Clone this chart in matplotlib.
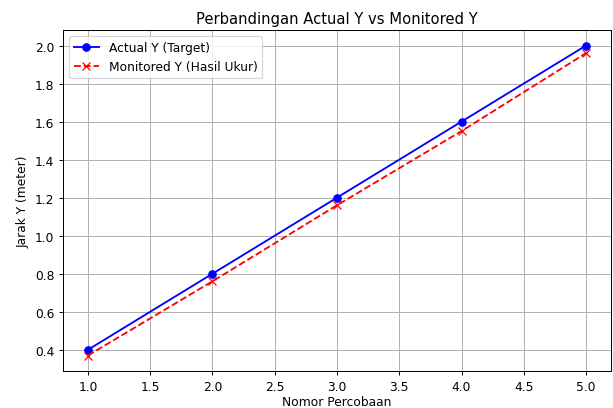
import matplotlib
matplotlib.use("Agg")
import matplotlib.pyplot as plt

trial = [1, 2, 3, 4, 5]
actual_y = [0.4, 0.8, 1.2, 1.6, 2.0]
monitored_y = [0.37, 0.76, 1.16, 1.55, 1.96]

dpi = 88.6
W, H = 613, 409
fig = plt.figure(figsize=(W / dpi, H / dpi), dpi=dpi)
ax = fig.add_axes([63/W, 1 - 372/H, (611-63)/W, (372-31)/H])
ax.plot(trial, actual_y, 'b-o', label='Actual Y (Target)')
ax.plot(trial, monitored_y, 'r--x', label='Monitored Y (Hasil Ukur)')
ax.set_title('Perbandingan Actual Y vs Monitored Y')
ax.set_xlabel('Nomor Percobaan', labelpad=2)
ax.set_ylabel('Jarak Y (meter)')
ax.grid(True)
ax.legend(loc='upper left')
fig.savefig('out.png', dpi=dpi)
